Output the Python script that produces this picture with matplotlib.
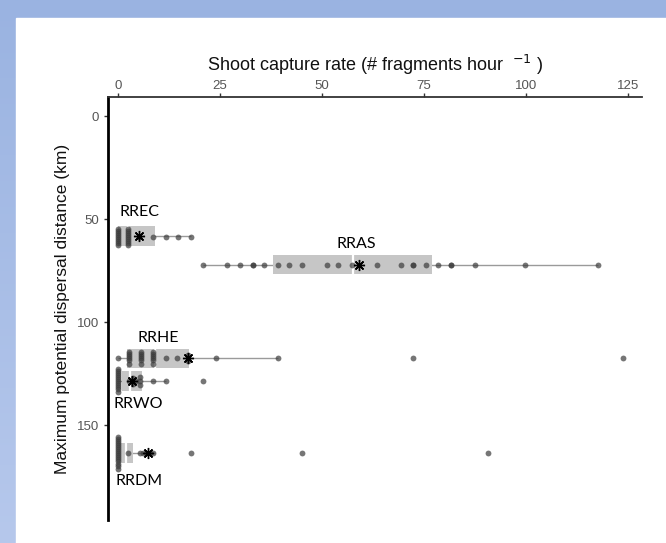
import numpy as np
import matplotlib.pyplot as plt
from matplotlib.patches import Rectangle

# data
sites = ['RREC', 'RRAS', 'RRHE', 'RRWO', 'RRDM']
distance = [58, 72, 117.5, 128.5, 163.5]

q1 = [0, 38, 2.2, 1, 0.3]
median = [2.5, 57.5, 9, 3, 2]
q3 = [9, 77, 17.5, 6, 3.7]
whisker_lo = [0, 20.8, 0, 0, 0]
whisker_hi = [17.9, 117.6, 39.2, 11.8, 9]
mean_rate = [5.2, 59, 17.2, 3.4, 7.4]

# individual observations (x = capture rate, y = distance incl. vertical jitter)
rrec_x = [0, 0, 0, 0, 0, 0, 0, 0, 0,
          2.5, 2.5, 2.5, 2.5, 2.5, 2.5, 2.5, 2.5, 2.5,
          5.2, 8.6, 11.8, 14.7, 17.9]
rrec_y = [54.5, 55.5, 56.5, 57.5, 58.5, 59.5, 60.5, 61.5, 62.5,
          54.5, 55.5, 56.5, 57.5, 58.5, 59.5, 60.5, 61.5, 62.5,
          58.5, 58.5, 58.5, 58.5, 58.5]

rras_x = [20.8, 26.7, 29.9, 33.1, 33.1, 35.8, 39.2, 41.9, 45.1, 51.2, 53.9, 57.4,
          63.5, 69.4, 72.3, 72.3, 75.5, 78.4, 81.6, 81.6, 87.5, 99.8, 117.6]
rras_y = [72] * 23

rrhe_x = [0, 2.7, 2.7, 2.7, 2.7, 2.7, 2.7, 5.6, 5.6, 5.6, 5.6, 5.6, 5.6,
          8.6, 8.6, 8.6, 8.6, 8.6, 8.6,
          11.8, 14.5, 17.2, 17.2, 17.2, 24, 39.2, 72.3, 123.8]
rrhe_y = [117.5, 114.5, 115.5, 116.5, 117.5, 118.5, 120, 114.5, 115.5, 116.5, 117.5, 118.5, 120,
          114.5, 115.5, 116.5, 117.5, 118.5, 120,
          117.5, 117.5, 116, 117.5, 119, 117.5, 117.5, 117.5, 117.5]

rrwo_x = [0, 0, 0, 0, 0, 0, 0, 0, 0, 0, 0, 0,
          2.7, 3.7, 3.7, 4.5, 5.4, 5.4, 5.4, 8.6, 11.8, 20.8]
rrwo_y = [122.5, 123.5, 124.5, 125.5, 126.5, 127.5, 128.5, 129.5, 130.5, 131.5, 132.5, 134,
          128.5, 127, 130, 128.5, 126.5, 128.5, 130.5, 128.5, 128.5, 128.5]

rrdm_x = [0, 0, 0, 0, 0, 0, 0, 0, 0, 0, 0, 0, 0, 0, 0, 0,
          2.5, 5.4, 6.2, 7, 7.8, 8.6, 17.9, 45.1, 90.7]
rrdm_y = [155.5, 156.5, 157.5, 158.5, 159.5, 160.5, 161.5, 162.5, 163.5, 164.5, 165.5, 166.5,
          167.5, 168.5, 169.5, 171,
          163.5, 163.5, 163.5, 163.5, 163.5, 163.5, 163.5, 163.5, 163.5]

points_x = [rrec_x, rras_x, rrhe_x, rrwo_x, rrdm_x]
points_y = [rrec_y, rras_y, rrhe_y, rrwo_y, rrdm_y]


def main():
    plt.rcParams['font.family'] = ['Liberation Sans', 'DejaVu Sans']
    fig = plt.figure(figsize=(6.66, 5.43), dpi=100)

    # slide background: blue gradient with white panel
    bg = fig.add_axes([0, 0, 1, 1], zorder=0)
    grad = np.linspace(0, 1, 256).reshape(-1, 1)
    bg.imshow(grad, aspect='auto', extent=[0, 1, 0, 1], origin='upper',
              cmap=plt.matplotlib.colors.LinearSegmentedColormap.from_list(
                  'bgblue', ['#9ab3e1', '#b6c8ec']))
    bg.add_patch(Rectangle((16 / 666, 0), 1, 1 - 18 / 543, color='white'))
    bg.set_xlim(0, 1)
    bg.set_ylim(0, 1)
    bg.axis('off')

    ax = fig.add_axes([0.162, 0.042, 0.802, 0.779], zorder=1)
    ax.patch.set_alpha(0)

    box_h = 9.5
    for i in range(len(sites)):
        y = distance[i]
        ax.hlines(y, whisker_lo[i], whisker_hi[i], color='#9a9a9a', lw=1, zorder=1)
        ax.barh(y, q3[i] - q1[i], left=q1[i], height=box_h, color='#c6c6c6',
                edgecolor='none', zorder=2)
        ax.vlines(median[i], y - box_h / 2, y + box_h / 2, color='white', lw=1.6, zorder=3)
        ax.plot(points_x[i], points_y[i], 'o', color='#3c3c3c', alpha=0.7,
                markersize=4.2, markeredgewidth=0, zorder=4)
        ax.plot(mean_rate[i], y, marker=(8, 2, 0), color='black', markersize=8,
                markeredgewidth=1.0, linestyle='none', zorder=5)

    # site labels
    label_pos = [(5.4, 46.6), (58.3, 62), (10, 107.8), (5.1, 139.5), (5.1, 177)]
    for name, (lx, ly) in zip(sites, label_pos):
        ax.text(lx, ly, name, ha='center', va='center', fontsize=11.5,
                family=['Lato', 'DejaVu Sans'], color='black')

    ax.set_xlim(-2.45, 128.4)
    ax.set_ylim(196, -9.2)
    ax.xaxis.tick_top()
    ax.xaxis.set_label_position('top')
    ax.set_xticks([0, 25, 50, 75, 100, 125])
    ax.set_yticks([0, 50, 100, 150])
    ax.tick_params(axis='both', colors='#333333', labelcolor='#555555',
                   labelsize=9.5, length=3, width=1)
    ax.tick_params(axis='x', pad=1)

    ax.spines['right'].set_visible(False)
    ax.spines['bottom'].set_visible(False)
    ax.spines['left'].set_linewidth(2)
    ax.spines['left'].set_color('black')
    ax.spines['top'].set_linewidth(1.3)
    ax.spines['top'].set_color('#333333')

    ax.set_xlabel('Shoot capture rate (# fragments hour  $^{-1}$ )', fontsize=13,
                  labelpad=6, color='#111111')
    ax.set_ylabel('Maximum potential dispersal distance (km)', fontsize=12.5,
                  labelpad=5, color='#111111')

    fig.savefig('out.png', dpi=100)


if __name__ == "__main__":
    main()
